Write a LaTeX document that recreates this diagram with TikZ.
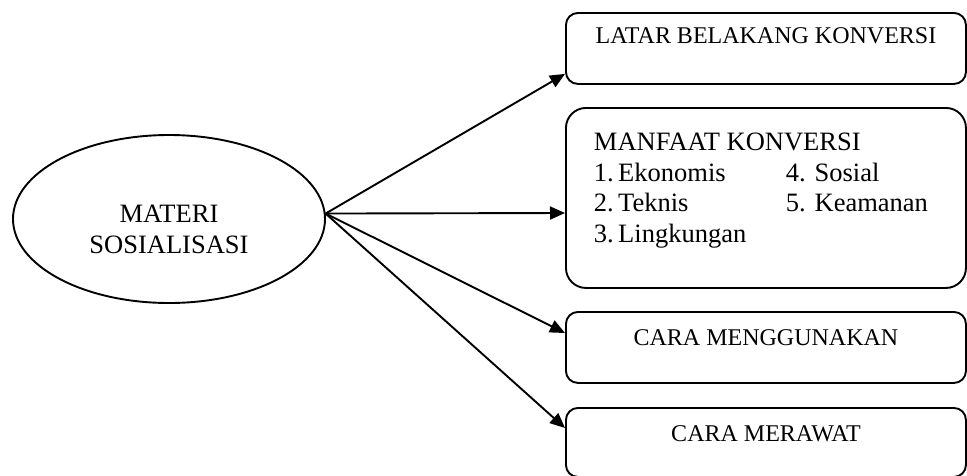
\documentclass[tikz,border=0pt]{standalone}
\usepackage{fontspec}
\setmainfont{Liberation Serif}
\usetikzlibrary{arrows.meta,shapes.geometric}
\begin{document}
\begin{tikzpicture}[x=1pt,y=-1pt,
  line width=1.9pt,
  boxshape/.style={draw,rectangle,rounded corners=12pt,minimum width=400pt,inner sep=0pt,anchor=north west},
  boxtext/.style={anchor=base,font=\fontsize{24}{28}\selectfont,inner sep=0pt},
  bigtext/.style={font=\fontsize{26.5}{30.5}\selectfont,inner sep=0pt},
  arr/.style={-{Triangle[length=15pt,width=13pt]}}]
\useasboundingbox (0,0) rectangle (967,475);
% ellipse
\node[draw,ellipse,minimum width=312pt,minimum height=168pt,inner sep=0pt] (m) at (169,219) {};
\node[bigtext,align=center,anchor=base] (mt) at (169,253) {MATERI\\SOSIALISASI};
% boxes
\node[boxshape,minimum height=71pt] (b1) at (565,12) {};
\node[boxtext] (b1t) at ([yshift=-31pt]b1.north) {LATAR BELAKANG KONVERSI};
\node[boxshape,minimum height=180pt,rounded corners=20pt] (b2) at (565,107) {};
\node[bigtext,align=left,anchor=base west] (b2t) at (593,242)
  {MANFAAT KONVERSI\\
   \makebox[192pt][l]{1.\,Ekonomis}4. Sosial\\
   \makebox[192pt][l]{2.\,Teknis}5. Keamanan\\
   3.\,Lingkungan};
\node[boxshape,minimum height=71pt] (b3) at (565,311) {};
\node[boxtext] (b3t) at ([yshift=-34pt]b3.north) {CARA MENGGUNAKAN};
\node[boxshape,minimum height=69pt] (b4) at (565,407) {};
\node[boxtext] (b4t) at ([yshift=-34pt]b4.north) {CARA MERAWAT};
% connectors
\coordinate (o) at (m.2);
\draw[arr] (o) -- ([yshift=11pt]b1.south west);
\draw[arr] (o) -- ([yshift=-106pt]b2.north west);
\draw[arr] (o) -- ([yshift=-22pt]b3.north west);
\draw[arr] (o) -- ([yshift=-21pt]b4.north west);
\end{tikzpicture}
\end{document}
